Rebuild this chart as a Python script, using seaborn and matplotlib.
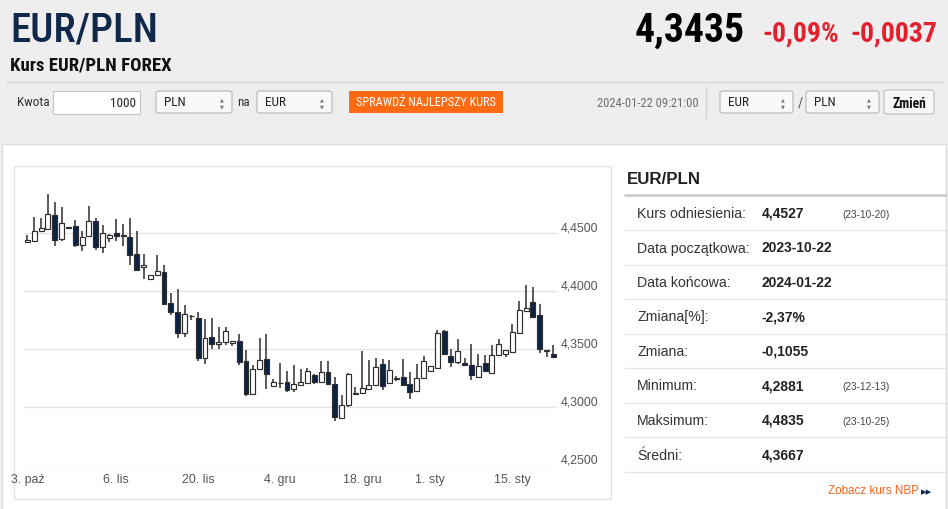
import matplotlib
matplotlib.use("Agg")
import matplotlib.pyplot as plt
import matplotlib.transforms as mtrans
from matplotlib.patches import Rectangle, FancyBboxPatch
import seaborn as sns
import pandas as pd
import numpy as np

# Candle data EUR/PLN, one row per trading session
dates = pd.bdate_range("2023-10-22", "2024-01-22", freq="C",
                       weekmask="Sun Mon Tue Wed Thu Fri",
                       holidays=["2023-12-24", "2023-12-31"])

opens = [4.4423, 4.4431, 4.4517, 4.4537, 4.4657, 4.4451, 4.4551, 4.4560, 4.4400, 4.4480,
         4.4603, 4.4386, 4.4463, 4.4500, 4.4481, 4.4471, 4.4320, 4.4206, 4.4103, 4.4143,
         4.4166, 4.3903, 4.3823, 4.3637, 4.3786, 4.3771, 4.3426, 4.3606, 4.3546, 4.3566,
         4.3558, 4.3569, 4.3399, 4.3115, 4.3330, 4.3417, 4.3186, 4.3210, 4.3218, 4.3155,
         4.3192, 4.3208, 4.3277, 4.3215, 4.3300, 4.3198, 4.2911, 4.3017, 4.3118, 4.3124,
         4.3161, 4.3190, 4.3376, 4.3210, 4.3248, 4.3261, 4.3204, 4.3138, 4.3256, 4.3313,
         4.3339, 4.3655, 4.3442, 4.3391, 4.3379, 4.3368, 4.3261, 4.3382, 4.3296, 4.3448,
         4.3463, 4.3477, 4.3644, 4.3830, 4.3911, 4.3793, 4.3491, 4.3463]
highs = [4.4485, 4.4637, 4.4629, 4.4835, 4.4766, 4.4723, 4.4555, 4.4614, 4.4523, 4.4731,
         4.4629, 4.4571, 4.4494, 4.4623, 4.4580, 4.4629, 4.4523, 4.4323, 4.4143, 4.4314,
         4.4229, 4.3986, 4.4023, 4.3886, 4.3794, 4.3823, 4.3764, 4.3770, 4.3693, 4.3693,
         4.3575, 4.3635, 4.3491, 4.3362, 4.3598, 4.3630, 4.3240, 4.3380, 4.3312, 4.3364,
         4.3328, 4.3339, 4.3290, 4.3395, 4.3397, 4.3261, 4.3103, 4.3292, 4.3175, 4.3483,
         4.3405, 4.3425, 4.3420, 4.3411, 4.3270, 4.3419, 4.3304, 4.3376, 4.3442, 4.3356,
         4.3664, 4.3664, 4.3500, 4.3586, 4.3425, 4.3543, 4.3457, 4.3454, 4.3534, 4.3592,
         4.3491, 4.3721, 4.3914, 4.4057, 4.4037, 4.3888, 4.3495, 4.3534]
lows = [4.4420, 4.4428, 4.4509, 4.4531, 4.4394, 4.4437, 4.4545, 4.4380, 4.4346, 4.4474,
        4.4357, 4.4329, 4.4423, 4.4437, 4.4394, 4.4229, 4.4177, 4.4109, 4.4103, 4.4137,
        4.3880, 4.3794, 4.3594, 4.3609, 4.3751, 4.3400, 4.3376, 4.3503, 4.3506, 4.3540,
        4.3530, 4.3362, 4.3098, 4.3110, 4.3323, 4.3158, 4.3186, 4.3163, 4.3128, 4.3135,
        4.3188, 4.3205, 4.3200, 4.3210, 4.3196, 4.2881, 4.2900, 4.3003, 4.3116, 4.3122,
        4.3152, 4.3185, 4.3146, 4.3204, 4.3226, 4.3183, 4.3075, 4.3133, 4.3253, 4.3313,
        4.3327, 4.3454, 4.3348, 4.3370, 4.3360, 4.3238, 4.3258, 4.3304, 4.3290, 4.3442,
        4.3434, 4.3475, 4.3642, 4.3822, 4.3775, 4.3471, 4.3434, 4.3425]
closes = [4.4443, 4.4517, 4.4546, 4.4666, 4.4446, 4.4591, 4.4549, 4.4400, 4.4471, 4.4603,
          4.4386, 4.4500, 4.4486, 4.4480, 4.4479, 4.4309, 4.4186, 4.4229, 4.4143, 4.4174,
          4.3894, 4.3823, 4.3637, 4.3800, 4.3784, 4.3423, 4.3601, 4.3543, 4.3566, 4.3658,
          4.3575, 4.3391, 4.3112, 4.3330, 4.3408, 4.3288, 4.3220, 4.3208, 4.3150, 4.3198,
          4.3220, 4.3316, 4.3218, 4.3300, 4.3203, 4.2918, 4.3023, 4.3288, 4.3119, 4.3167,
          4.3190, 4.3348, 4.3184, 4.3325, 4.3246, 4.3190, 4.3132, 4.3253, 4.3399, 4.3356,
          4.3644, 4.3463, 4.3391, 4.3486, 4.3362, 4.3281, 4.3356, 4.3313, 4.3454, 4.3543,
          4.3491, 4.3649, 4.3836, 4.3859, 4.3779, 4.3506, 4.3489, 4.3435]

tick_dates = ["2023-10-23", "2023-11-06", "2023-11-20", "2023-12-04",
              "2023-12-18", "2024-01-01", "2024-01-15"]
tick_labels = ["23. paź", "6. lis", "20. lis", "4. gru", "18. gru", "1. sty", "15. sty"]
y_ticks = [4.25, 4.30, 4.35, 4.40, 4.45]

stat_labels = ["Kurs odniesienia:", "Data początkowa:", "Data końcowa:", "Zmiana[%]:",
               "Zmiana:", "Minimum:", "Maksimum:", "Średni:"]
stat_values = ["4,4527", "2023-10-22", "2024-01-22", "-2,37%", "-0,1055",
               "4,2881", "4,4835", "4,3667"]
stat_notes = ["(23-10-20)", "", "", "", "", "(23-12-13)", "(23-10-25)", ""]

df = pd.DataFrame({"date": dates, "open": opens, "high": highs, "low": lows, "close": closes})
df["idx"] = np.arange(len(df))
df["up"] = df["close"] >= df["open"]

sns.set_style("white")
NARROW = ["Roboto Condensed", "DejaVu Sans"]
REG = ["Liberation Sans", "DejaVu Sans"]
plt.rcParams["font.family"] = REG

W, H = 948, 510
fig = plt.figure(figsize=(W / 100, H / 100), dpi=100, facecolor="#eeeeee")


def box(x0, y0, x1, y1, fc, ec="none", lw=1.0, z=-5, rounded=False):
    if rounded:
        p = FancyBboxPatch((x0 / W, 1 - y1 / H), (x1 - x0) / W, (y1 - y0) / H,
                           boxstyle="round,pad=0,rounding_size=0.004",
                           transform=fig.transFigure, fc=fc, ec=ec, lw=lw, zorder=z)
    else:
        p = Rectangle((x0 / W, 1 - y1 / H), (x1 - x0) / W, (y1 - y0) / H,
                      transform=fig.transFigure, fc=fc, ec=ec, lw=lw, zorder=z)
    fig.add_artist(p)


def hline(x0, x1, y, color, lw=1.0):
    fig.add_artist(plt.Line2D([x0 / W, x1 / W], [1 - y / H, 1 - y / H],
                              transform=fig.transFigure, color=color, lw=lw, zorder=-4))


def txt(x, y, s, size, color="#222222", weight="normal", ha="left", family=NARROW):
    return fig.text(x / W, 1 - y / H, s, fontsize=size, color=color, weight=weight,
                    ha=ha, va="center", family=family)


def select(x0, x1, label):
    box(x0, 92, x1, 114, "#f8f8f8", ec="#b5b5b5", lw=0.8, rounded=True)
    txt(x0 + 8, 103, label, 9.5, "#222222")
    txt(x1 - 10, 99.5, "▲", 3.6, "#777777", ha="center", family=["DejaVu Sans"])
    txt(x1 - 10, 106.5, "▼", 3.6, "#777777", ha="center", family=["DejaVu Sans"])


# header
txt(10, 30, "EUR/PLN", 29.5, "#10284a", weight=500)
txt(745, 31, "4,3435", 28.5, "#000000", weight="bold", ha="right")
txt(762, 34, "-0,09%", 20, "#e5202e", weight="bold")
txt(937, 34, "-0,0037", 20, "#e5202e", weight="bold", ha="right")
txt(10, 66, "Kurs EUR/PLN FOREX", 13.5, "#111111", weight="bold")
hline(6, 942, 83, "#d6d6d6")

txt(17, 103, "Kwota", 9.5, "#333333")
box(53, 92, 140, 115, "#ffffff", ec="#c2c2c2", lw=0.8)
txt(136, 104, "1000", 9.5, "#222222", ha="right")
select(156, 232, "PLN")
txt(237, 103, "na", 9.5, "#333333")
select(257, 332, "EUR")
box(349, 92, 503, 114, "#ff6a13")
txt(426, 103, "SPRAWDŹ NAJLEPSZY KURS", 8.8, "#ffffff", ha="center")
txt(597, 104, "2024-01-22 09:21:00", 9.0, "#6d6d6d")
fig.add_artist(plt.Line2D([706 / W, 706 / W], [1 - 88 / H, 1 - 119 / H],
                          transform=fig.transFigure, color="#d4d4d4", lw=1, zorder=-4))
select(720, 793, "EUR")
txt(798, 104, "/", 10, "#555555")
select(806, 879, "PLN")
box(884, 91, 934, 115, "#f6f6f6", ec="#bdbdbd", lw=0.8, rounded=True)
txt(909, 104, "Zmień", 9.8, "#111111", weight="bold", ha="center")

# content panel + chart frame
box(2, 145, 946, 512, "#ffffff", ec="#dddddd", lw=1, z=-6)
box(14, 167, 611, 500, "#ffffff", ec="#e2e2e2", lw=1, z=-5)

# candlestick chart
ax = fig.add_axes([24 / W, 1 - 466.3 / H, (556.8 - 24) / W, (466.3 - 180) / H])
ax.set_facecolor("none")
ax.vlines(df["idx"], df["low"], df["high"], color="#2e2e2e", lw=1.1, zorder=2)
body_low = df[["open", "close"]].min(axis=1)
body_h = (df["close"] - df["open"]).abs().clip(lower=0.0004)
fills = np.where(df["up"], "#ffffff", "#0d2345")
ax.bar(df["idx"], body_h, bottom=body_low, width=0.72, color=fills,
       edgecolor="#2e2e2e", linewidth=0.85, zorder=3)

ax.set_xlim(-0.5, len(df) - 0.5)
ax.set_ylim(4.25, 4.4968)
ax.set_yticks(y_ticks)
ax.set_yticklabels([f"{v:.4f}".replace(".", ",") for v in y_ticks])
ax.yaxis.tick_right()
ax.tick_params(axis="y", length=0, pad=3, labelsize=8.9, labelcolor="#555555")
for lbl in ax.get_yticklabels():
    lbl.set_va("bottom")
ax.set_xticks([])
ax.grid(axis="y", color="#e4e4e4", lw=1)
ax.set_axisbelow(True)
sns.despine(ax=ax, left=True, bottom=True, right=True, top=True)

clip = Rectangle((11 / W, 0), 600 / W, 1, transform=fig.transFigure)
base = mtrans.blended_transform_factory(ax.transData, ax.transAxes)
for i, (d, lab) in enumerate(zip(tick_dates, tick_labels)):
    pos = dates.get_loc(pd.Timestamp(d))
    shift = -10 if i == 0 else 0
    t = ax.text(pos, 0, lab, fontsize=8.9, color="#555555", ha="center", va="center",
                transform=base + mtrans.ScaledTranslation(shift / 100, -14 / 100,
                                                          fig.dpi_scale_trans),
                clip_on=True)
    t.set_clip_path(clip)

# right stats panel
txt(627, 180, "EUR/PLN", 12.2, "#222222", weight="bold", family=REG)
hline(625, 945, 196, "#cccccc", lw=2)
for i, (lab, val, note) in enumerate(zip(stat_labels, stat_values, stat_notes)):
    yc = 214 + 34.5 * i
    txt(637, yc, lab, 10.2, "#333333", family=REG)
    txt(762, yc, val, 10.0, "#222222", weight="bold", family=REG)
    if note:
        txt(842, yc + 1, note, 7.2, "#444444", family=REG)
    hline(625, 945, yc + 17.3, "#e6e6e6")

txt(828, 491, "Zobacz kurs NBP", 8.4, "#f26522", family=REG)
txt(921, 492, "▸▸", 8, "#10284a", family=["DejaVu Sans"])

plt.savefig("out.png", dpi=100, facecolor=fig.get_facecolor())
